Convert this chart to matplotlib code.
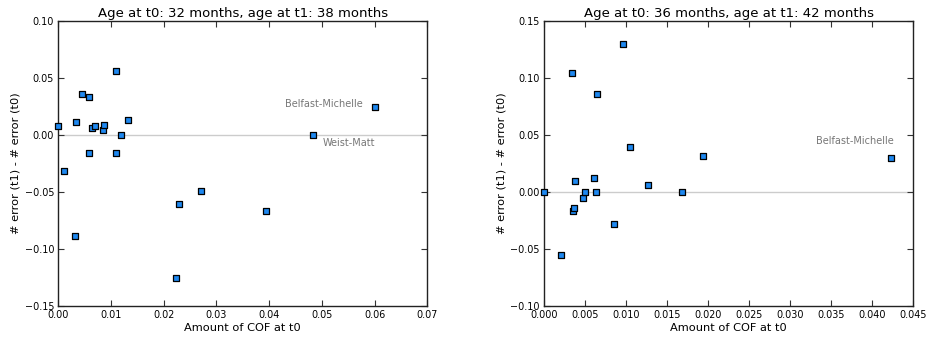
import matplotlib
matplotlib.use("Agg")
import matplotlib.pyplot as plt
import numpy as np

# Left panel data
x1 = [0.0, 0.00108, 0.00316, 0.00335, 0.00449, 0.00582, 0.00575, 0.00632, 0.00689,
      0.00847, 0.00860, 0.0110, 0.0110, 0.01189, 0.01328, 0.02232, 0.02289, 0.0270,
      0.03946, 0.04837, 0.0601]
y1 = [0.0079, -0.0321, -0.0888, 0.0114, 0.0359, 0.0330, -0.0158, 0.0061, 0.0079,
      0.0038, 0.0088, 0.0555, -0.0158, 0.0, 0.0134, -0.1259, -0.0602, -0.0491,
      -0.0666, 0.0, 0.0248]
title1 = "Age at t0: 32 months, age at t1: 38 months"
labels1 = {"Belfast-Michelle": (0.0601, 0.0248), "Weist-Matt": (0.04837, 0.0)}

# Right panel data
x2 = [0.0, 0.00207, 0.00337, 0.00357, 0.00370, 0.00378, 0.00475, 0.00500, 0.00605,
      0.00634, 0.00642, 0.00853, 0.00967, 0.01044, 0.01263, 0.01681, 0.01941, 0.04232]
y2 = [0.0, -0.0552, 0.1046, -0.0164, -0.0137, 0.0099, -0.0055, 0.0, 0.0120,
      0.0, 0.0859, -0.0283, 0.1297, 0.0397, 0.0064, 0.0, 0.0310, 0.0295]
title2 = "Age at t0: 36 months, age at t1: 42 months"
labels2 = {"Belfast-Michelle": (0.04232, 0.0295)}

xlabel = "Amount of COF at t0"
ylabel = "# error (t1) - # error (t0)"

fig = plt.figure(figsize=(9.28, 3.37), dpi=100)
ax1 = fig.add_axes([0.0628, 0.092, 0.3976, 0.8466])
ax2 = fig.add_axes([0.5862, 0.092, 0.3980, 0.8466])

def style(ax):
    for s in ax.spines.values():
        s.set_linewidth(1.0)
        s.set_color("#222222")
    ax.tick_params(direction="in", top=True, right=True, length=4, width=0.8,
                   labelsize=6.9, pad=3, color="#333333")

def panel(ax, x, y, title, xlim, ylim, xstep, ystep, xfmt):
    ax.axhline(0, color="#cccccc", linewidth=1.0, zorder=1)
    ax.scatter(x, y, marker="s", s=20, facecolor="#1e88f0", edgecolor="black",
               linewidth=0.9, zorder=3, clip_on=False)
    ax.set_xlim(*xlim)
    ax.set_ylim(*ylim)
    ax.set_xticks(np.round(np.arange(xlim[0], xlim[1] + xstep / 2, xstep), 4))
    ax.set_yticks(np.round(np.arange(ylim[0], ylim[1] + ystep / 2, ystep), 4))
    ax.xaxis.set_major_formatter(matplotlib.ticker.FormatStrFormatter(xfmt))
    ax.yaxis.set_major_formatter(matplotlib.ticker.FuncFormatter(
        lambda v, p: ("%.2f" % v).replace("-", "\u2212")))
    ax.set_title(title, fontsize=9.5, pad=3)
    ax.set_xlabel(xlabel, fontsize=8.2, labelpad=2)
    ax.set_ylabel(ylabel, fontsize=8.2, labelpad=3)
    style(ax)

panel(ax1, x1, y1, title1, (0, 0.07), (-0.15, 0.10), 0.01, 0.05, "%.2f")
panel(ax2, x2, y2, title2, (0, 0.045), (-0.10, 0.15), 0.005, 0.05, "%.3f")

ax1.annotate("Belfast-Michelle", xy=labels1["Belfast-Michelle"], xytext=(-9, 1.5),
             textcoords="offset points", ha="right", va="center",
             fontsize=7.0, color="#777777")
ax1.annotate("Weist-Matt", xy=labels1["Weist-Matt"], xytext=(6.5, -6),
             textcoords="offset points", ha="left", va="center",
             fontsize=7.0, color="#777777")
ax2.annotate("Belfast-Michelle", xy=labels2["Belfast-Michelle"], xytext=(1.5, 12.5),
             textcoords="offset points", ha="right", va="center",
             fontsize=7.0, color="#777777")

fig.savefig("out.png", dpi=100, facecolor="white")
